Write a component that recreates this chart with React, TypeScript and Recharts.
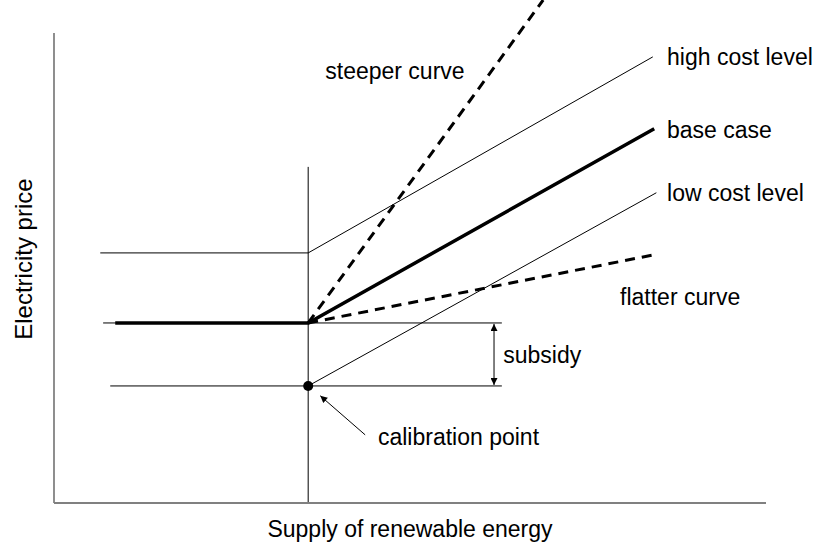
import React from "react";
import {
  ComposedChart,
  Line,
  Scatter,
  XAxis,
  YAxis,
  Label,
} from "recharts";

// conceptual diagram, arbitrary units (x: 0-100, y: 0-107)
const yAxisLine = [
  { x: 0, y: 0 },
  { x: 0, y: 100 },
];
const calibrationX = [
  { x: 35.7, y: 0 },
  { x: 35.7, y: 71.5 },
];
const highCost = [
  { x: 6.5, y: 53.2 },
  { x: 35.7, y: 53.2 },
  { x: 84.1, y: 94.9 },
];
const baseCase = [
  { x: 8.6, y: 38.3 },
  { x: 35.7, y: 38.3 },
  { x: 84.3, y: 79.6 },
];
const baseLevel = [
  { x: 6.9, y: 38.3 },
  { x: 62.9, y: 38.3 },
];
const lowLevel = [
  { x: 7.9, y: 24.9 },
  { x: 62.9, y: 24.9 },
];
const lowCost = [
  { x: 35.7, y: 24.9 },
  { x: 84.6, y: 66.0 },
];
const steeper = [
  { x: 35.7, y: 38.3 },
  { x: 68.7, y: 107 },
];
const flatter = [
  { x: 35.7, y: 38.3 },
  { x: 84.3, y: 52.8 },
];
const subsidyArrow = [
  { x: 61.8, y: 38.1 },
  { x: 61.8, y: 25.1 },
];
const calibrationArrow = [
  { x: 43.7, y: 14.5 },
  { x: 37.4, y: 22.8 },
];
const calibrationPoint = [{ x: 35.7, y: 24.9 }];

const labels = [
  { x: 38.1, y: 91.9, label: "steeper curve" },
  { x: 86.1, y: 94.9, label: "high cost level" },
  { x: 86.1, y: 79.4, label: "base case" },
  { x: 86.1, y: 66.0, label: "low cost level" },
  { x: 79.5, y: 43.8, label: "flatter curve" },
  { x: 63.1, y: 31.5, label: "subsidy" },
  { x: 45.5, y: 14.0, label: "calibration point" },
];

const FONT = "'Liberation Sans', Arial, Helvetica, sans-serif";
const FS = 23;

const TextShape = (props: any) => (
  <text
    x={props.cx}
    y={props.cy}
    dominantBaseline="central"
    textAnchor="start"
    fontFamily={FONT}
    fontSize={FS}
    fill="#000"
  >
    {props.payload.label}
  </text>
);

const DotShape = (props: any) => (
  <circle cx={props.cx} cy={props.cy} r={5} fill="#000" />
);

const YTitle = (props: any) => {
  const { x, y, height } = props.viewBox;
  const cx = x + 24;
  const cy = y + height * 0.515;
  return (
    <text
      x={cx}
      y={cy}
      transform={`rotate(-90, ${cx}, ${cy})`}
      textAnchor="middle"
      dominantBaseline="central"
      fontFamily={FONT}
      fontSize={24}
      fill="#000"
    >
      Electricity price
    </text>
  );
};

const XTitle = (props: any) => {
  const { x, y, width } = props.viewBox;
  return (
    <text
      x={x + width / 2}
      y={y + 26}
      textAnchor="middle"
      dominantBaseline="central"
      fontFamily={FONT}
      fontSize={FS}
      fill="#000"
    >
      Supply of renewable energy
    </text>
  );
};

export default function App() {
  const thin = { stroke: "#000", strokeWidth: 1, dot: false, isAnimationActive: false };
  return (
    <div style={{ position: "absolute", left: 0, top: 0, background: "#fff" }}>
      <ComposedChart
        width={822}
        height={549}
        margin={{ top: 0, right: 56, bottom: 0, left: 0 }}
      >
        <defs>
          <marker
            id="arrowHead"
            viewBox="0 0 10 10"
            refX="10"
            refY="5"
            markerWidth="8"
            markerHeight="7"
            markerUnits="userSpaceOnUse"
            orient="auto-start-reverse"
          >
            <path d="M0,0 L10,5 L0,10 z" fill="#000" />
          </marker>
        </defs>
        <XAxis
          type="number"
          dataKey="x"
          domain={[0, 100]}
          height={46}
          tick={false}
          tickLine={false}
          axisLine={{ stroke: "#808080", strokeWidth: 2 }}
        >
          <Label content={XTitle} />
        </XAxis>
        <YAxis
          type="number"
          dataKey="y"
          domain={[0, 107]}
          width={54}
          tick={false}
          tickLine={false}
          axisLine={false}
        >
          <Label content={YTitle} />
        </YAxis>
        <Line data={yAxisLine} dataKey="y" {...thin} stroke="#444" strokeWidth={1.2} />
        <Line data={calibrationX} dataKey="y" {...thin} />
        <Line data={highCost} dataKey="y" {...thin} />
        <Line data={baseLevel} dataKey="y" {...thin} />
        <Line data={lowLevel} dataKey="y" {...thin} />
        <Line data={lowCost} dataKey="y" {...thin} />
        <Line
          data={baseCase}
          dataKey="y"
          stroke="#000"
          strokeWidth={3.5}
          dot={false}
          isAnimationActive={false}
        />
        <Line
          data={steeper}
          dataKey="y"
          stroke="#000"
          strokeWidth={3}
          strokeDasharray="10 7"
          dot={false}
          isAnimationActive={false}
        />
        <Line
          data={flatter}
          dataKey="y"
          stroke="#000"
          strokeWidth={3}
          strokeDasharray="10 7"
          dot={false}
          isAnimationActive={false}
        />
        <Line
          data={subsidyArrow}
          dataKey="y"
          {...thin}
          markerStart="url(#arrowHead)"
          markerEnd="url(#arrowHead)"
        />
        <Line
          data={calibrationArrow}
          dataKey="y"
          {...thin}
          markerEnd="url(#arrowHead)"
        />
        <Scatter
          data={calibrationPoint}
          dataKey="y"
          shape={DotShape}
          isAnimationActive={false}
        />
        <Scatter
          data={labels}
          dataKey="y"
          shape={TextShape}
          isAnimationActive={false}
        />
      </ComposedChart>
    </div>
  );
}
